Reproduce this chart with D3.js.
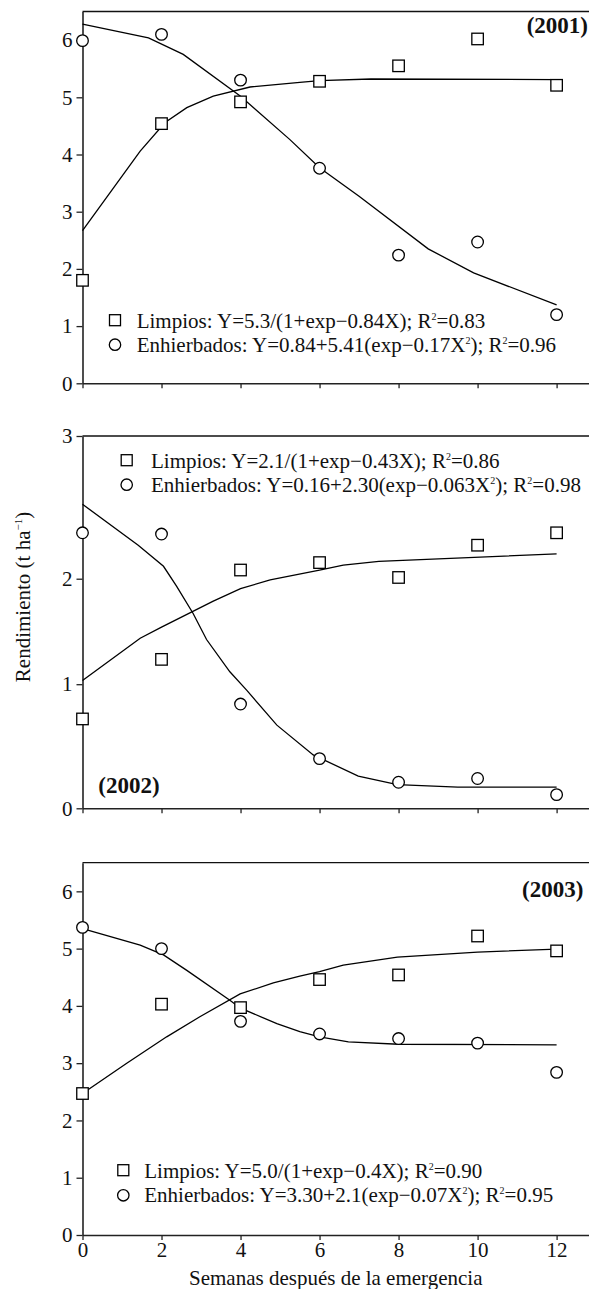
<!DOCTYPE html>
<html>
<head>
<meta charset="utf-8">
<script src="https://cdn.jsdelivr.net/npm/d3@7"></script>
<style>
  body { margin: 0; background: #fff; }
  svg { display: block; font-family: "Liberation Serif", "Times New Roman", serif; }
</style>
</head>
<body>
<svg id="chart" width="589" height="1289"></svg>
<script>
// semanas después de la emergencia
const weeks = [0, 2, 4, 6, 8, 10, 12];

const limpios2001 = [1.80, 4.54, 4.92, 5.28, 5.55, 6.02, 5.21];
const enhierbados2001 = [5.99, 6.10, 5.30, 3.76, 2.24, 2.47, 1.20];
const limpios2002 = [0.72, 1.20, 1.92, 1.98, 1.86, 2.12, 2.22];
const enhierbados2002 = [2.22, 2.21, 0.84, 0.40, 0.21, 0.24, 0.11];
const limpios2003 = [2.47, 4.03, 3.97, 4.46, 4.54, 5.22, 4.96];
const enhierbados2003 = [5.37, 5.00, 3.73, 3.51, 3.43, 3.35, 2.84];

// fitted curves, vertices [week, yield]
const fitLimpios2001 = [[0, 2.67], [1.46, 4.06], [2.09, 4.56], [2.64, 4.82], [3.31, 5.02], [4.24, 5.18], [5.5, 5.26], [6, 5.29], [7.3, 5.32], [12, 5.31]];
const fitEnhierbados2001 = [[0, 6.28], [1.67, 6.04], [2.55, 5.75], [4, 5.02], [5.25, 4.26], [6, 3.77], [7, 3.27], [8.75, 2.35], [9.9, 1.93], [12, 1.37]];
const fitLimpios2002 = [[0, 1.03], [1.46, 1.37], [2, 1.46], [3.31, 1.67], [4, 1.77], [4.75, 1.84], [6, 1.92], [6.6, 1.96], [7.5, 1.99], [12, 2.05]];
const fitEnhierbados2002 = [[0, 2.45], [1.41, 2.12], [2.05, 1.95], [2.38, 1.79], [2.8, 1.57], [3.14, 1.36], [3.73, 1.10], [4.16, 0.95], [4.92, 0.67], [5.84, 0.43], [6.98, 0.26], [7.97, 0.19], [9.5, 0.17], [12, 0.17]];
const fitLimpios2003 = [[0, 2.47], [1.12, 3.0], [2.13, 3.46], [2.97, 3.81], [3.99, 4.21], [4.83, 4.40], [5.5, 4.52], [6, 4.60], [6.6, 4.71], [7.97, 4.85], [10, 4.94], [12, 4.99]];
const fitEnhierbados2003 = [[0, 5.35], [1.46, 5.06], [2.05, 4.89], [2.64, 4.62], [3.73, 4.10], [4, 3.96], [4.92, 3.69], [5.5, 3.55], [6, 3.46], [6.73, 3.37], [8, 3.33], [12, 3.32]];

// legend texts (^{..} = superscript)
const legend2001 = ["Limpios: Y=5.3/(1+exp\u22120.84X); R^{2}=0.83", "Enhierbados: Y=0.84+5.41(exp\u22120.17X^{2}); R^{2}=0.96"];
const legend2002 = ["Limpios: Y=2.1/(1+exp\u22120.43X); R^{2}=0.86", "Enhierbados: Y=0.16+2.30(exp\u22120.063X^{2}); R^{2}=0.98"];
const legend2003 = ["Limpios: Y=5.0/(1+exp\u22120.4X); R^{2}=0.90", "Enhierbados: Y=3.30+2.1(exp\u22120.07X^{2}); R^{2}=0.95"];

// y ticks; in the 2002 panel the "2" tick sits lower than its value in the original
const yTicks6 = [0, 1, 2, 3, 4, 5, 6];
const yTickLabels6 = ["0", "1", "2", "3", "4", "5", "6"];
const yTicks2002 = [0, 1, 1.85, 3];
const yTickLabels2002 = ["0", "1", "2", "3"];

const xLabel = "Semanas después de la emergencia";
const yLabel = "Rendimiento (t ha^{\u22121})";

const svg = d3.select("#chart");
const x = d3.scaleLinear().domain([0, 12.82]).range([82.5, 589]);

const panels = [
  { year: "(2001)", lim: limpios2001, enh: enhierbados2001, fitL: fitLimpios2001, fitE: fitEnhierbados2001,
    legend: legend2001, yMax: 6.5, range: [383.3, 11.5], ticks: yTicks6, tickLabels: yTickLabels6,
    leg: { mx: 115, tx: 136.7, base: [327.7, 351.7] }, yr: { x: 588, y: 33, anchor: "end" }, xLabels: false },
  { year: "(2002)", lim: limpios2002, enh: enhierbados2002, fitL: fitLimpios2002, fitE: fitEnhierbados2002,
    legend: legend2002, yMax: 3, range: [808.3, 436], ticks: yTicks2002, tickLabels: yTickLabels2002,
    leg: { mx: 126.7, tx: 151, base: [467.7, 491.7] }, yr: { x: 98.3, y: 793, anchor: "start" }, xLabels: false },
  { year: "(2003)", lim: limpios2003, enh: enhierbados2003, fitL: fitLimpios2003, fitE: fitEnhierbados2003,
    legend: legend2003, yMax: 6.5, range: [1235, 862.7], ticks: yTicks6, tickLabels: yTickLabels6,
    leg: { mx: 123.3, tx: 144.3, base: [1177.7, 1202.3] }, yr: { x: 583.3, y: 896.7, anchor: "end" }, xLabels: true }
];

// writes a string with ^{..} superscripts into a text element
function richText(sel, str, supSize) {
  const parts = str.split(/\^\{([^}]*)\}/);
  let lift = 0;
  parts.forEach((p, i) => {
    if (p === "") return;
    const t = sel.append("tspan").text(p);
    if (i % 2 === 1) {
      t.attr("font-size", supSize).attr("dy", -8);
      lift = 8;
    } else if (lift) {
      t.attr("dy", lift);
      lift = 0;
    }
  });
}

const square = (g, cx, cy, s) => g.append("rect")
  .attr("x", cx - s / 2).attr("y", cy - s / 2).attr("width", s).attr("height", s)
  .attr("fill", "#fff").attr("stroke", "#000").attr("stroke-width", 1.3);
const circle = (g, cx, cy, r) => g.append("circle")
  .attr("cx", cx).attr("cy", cy).attr("r", r)
  .attr("fill", "#fff").attr("stroke", "#000").attr("stroke-width", 1.3);

panels.forEach(p => {
  const y = d3.scaleLinear().domain([0, p.yMax]).range(p.range);
  const g = svg.append("g");

  // top border
  g.append("line")
    .attr("x1", x(0)).attr("x2", x.range()[1])
    .attr("y1", y(p.yMax)).attr("y2", y(p.yMax))
    .attr("stroke", "#111").attr("stroke-width", 1.3);

  const yAxis = g.append("g")
    .attr("transform", `translate(${x(0)},0)`)
    .call(d3.axisLeft(y).tickValues(p.ticks)
      .tickFormat((d, i) => p.tickLabels[i])
      .tickSize(6).tickSizeOuter(0).tickPadding(4));

  const xAxis = g.append("g")
    .attr("transform", `translate(0,${y(0)})`)
    .call(d3.axisBottom(x).tickValues(weeks)
      .tickFormat(p.xLabels ? d3.format("d") : "")
      .tickSize(5).tickSizeOuter(0).tickPadding(2));

  [yAxis, xAxis].forEach(a => {
    a.select(".domain").attr("stroke", "#222").attr("stroke-width", 1.6);
    a.selectAll(".tick line").attr("stroke", "#222").attr("stroke-width", 1.3);
    a.selectAll(".tick text").attr("font-size", 21).attr("font-family", "Liberation Serif").attr("fill", "#111");
  });

  // fitted curves
  const line = d3.line().x(d => x(d[0])).y(d => y(d[1]));
  [p.fitL, p.fitE].forEach(f => g.append("path").attr("d", line(f))
    .attr("fill", "none").attr("stroke", "#000").attr("stroke-width", 1.3));

  // observations
  weeks.forEach((w, i) => {
    square(g, x(w), y(p.lim[i]), 11.5);
    circle(g, x(w), y(p.enh[i]), 5.8);
  });

  // legend
  square(g, p.leg.mx, p.leg.base[0] - 7.5, 11);
  circle(g, p.leg.mx, p.leg.base[1] - 7, 5.7);
  p.legend.forEach((s, i) => {
    const t = g.append("text").attr("x", p.leg.tx).attr("y", p.leg.base[i])
      .attr("font-size", 21).attr("fill", "#111");
    richText(t, s, 10);
  });

  // year tag
  g.append("text").attr("x", p.yr.x).attr("y", p.yr.y)
    .attr("text-anchor", p.yr.anchor).attr("font-size", 23).attr("font-weight", "bold")
    .attr("fill", "#111").text(p.year);
});

// axis titles
svg.append("text")
  .attr("x", (x(0) + x.range()[1]) / 2).attr("y", 1285)
  .attr("text-anchor", "middle").attr("font-size", 21).attr("fill", "#111")
  .text(xLabel);

const yt = svg.append("text")
  .attr("transform", "translate(30,597) rotate(-90)")
  .attr("text-anchor", "middle").attr("font-size", 21).attr("fill", "#111");
richText(yt, yLabel, 11);
</script>
</body>
</html>
